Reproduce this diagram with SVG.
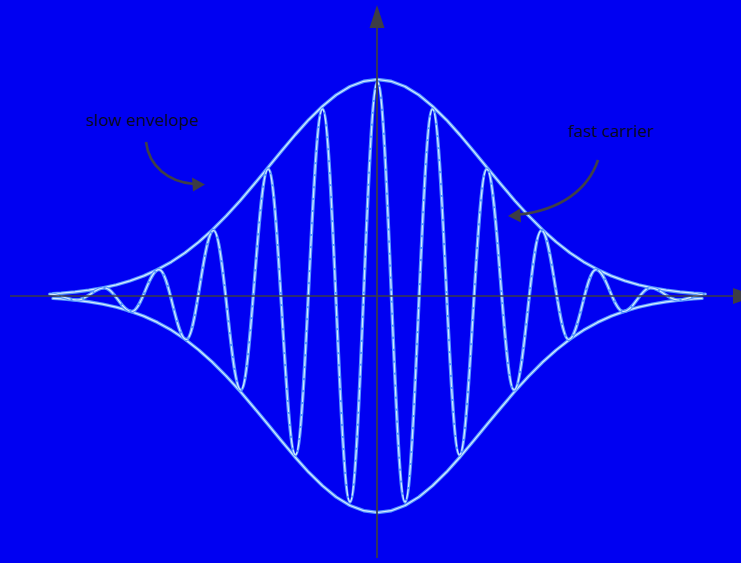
<svg xmlns="http://www.w3.org/2000/svg" width="741" height="563" viewBox="0 0 741 563">
<style>
.glow{fill:none;stroke:#5596ff;stroke-width:3.4;stroke-linejoin:round;stroke-linecap:round}
.core{fill:none;stroke:#d6eaff;stroke-width:1.2;stroke-linejoin:round;stroke-linecap:round}
.axis{stroke:#3d3d45;stroke-width:1.7;fill:none}
.ahead{fill:#3d3d45}
.lbl{font-family:"Open Sans","Liberation Sans",sans-serif;font-size:17px;fill:#0a0a20}
.carrow{fill:none;stroke:#404048;stroke-width:2.6}
</style>
<defs>
<path id="envTop" d="M53 293.6 L61.25 293.2 L75 291.95 L88.75 290.2 L102.5 287.9 L116.25 284.9 L130 280.9 L143.75 275.9 L157.5 269.6 L171.25 261.9 L185 252.8 L198.75 242 L212.5 229.7 L226.25 215.9 L240 200.8 L253.75 184.7 L267.5 168.1 L281.25 151.3 L295 135 L308.75 119.7 L322.5 106.2 L336.25 94.9 L350 86.5 L363.75 81.3 L377.5 79.5 L391.25 81.3 L405 86.5 L418.75 94.9 L432.5 106.2 L446.25 119.7 L460 135 L473.75 151.3 L487.5 168.1 L501.25 184.7 L515 200.8 L528.75 215.9 L542.5 229.7 L556.25 242 L570 252.8 L583.75 261.9 L597.5 269.6 L611.25 275.9 L625 280.9 L638.75 284.9 L652.5 287.9 L666.25 290.2 L680 291.95 L693.75 293.2 L702 293.6"/>
<path id="envBot" d="M53 298.4 L61.25 298.8 L75 300.05 L88.75 301.8 L102.5 304.1 L116.25 307.1 L130 311.1 L143.75 316.1 L157.5 322.4 L171.25 330.1 L185 339.2 L198.75 350 L212.5 362.3 L226.25 376.1 L240 391.2 L253.75 407.3 L267.5 423.9 L281.25 440.7 L295 457 L308.75 472.3 L322.5 485.8 L336.25 497.1 L350 505.5 L363.75 510.7 L377.5 512.5 L391.25 510.7 L405 505.5 L418.75 497.1 L432.5 485.8 L446.25 472.3 L460 457 L473.75 440.7 L487.5 423.9 L501.25 407.3 L515 391.2 L528.75 376.1 L542.5 362.3 L556.25 350 L570 339.2 L583.75 330.1 L597.5 322.4 L611.25 316.1 L625 311.1 L638.75 307.1 L652.5 304.1 L666.25 301.8 L680 300.05 L693.75 298.8 L702 298.4"/>
<path id="carrierPath" d="M49.7 294.1 C59.7 294.1 67 300 77 300 C87 300 94.3 287.9 104.3 287.9 C114.3 287.9 121.6 311.5 131.6 311.5 C141.6 311.5 149 269.6 159 269.6 C169 269.6 176.3 339.5 186.3 339.5 C196.3 339.5 203.6 230.5 213.6 230.5 C223.6 230.5 230.9 390 240.9 390 C250.9 390 258.2 169 268.2 169 C278.2 169 285.5 455 295.5 455 C305.5 455 312.5 109 322.5 109 C332.5 109 340 502 350 502 C360 502 367.5 82 377.5 82 C387.5 82 395 502 405 502 C415 502 422.5 109 432.5 109 C442.5 109 449.5 455 459.5 455 C469.5 455 476.8 169 486.8 169 C496.8 169 504.1 390 514.1 390 C524.1 390 531.4 230.5 541.4 230.5 C551.4 230.5 558.7 339.5 568.7 339.5 C578.7 339.5 586 269.6 596 269.6 C606 269.6 613.4 311.5 623.4 311.5 C633.4 311.5 640.7 287.9 650.7 287.9 C660.7 287.9 668 300 678 300 C688 300 695.3 294.1 705.3 294.1"/>
</defs>
<rect x="0" y="0" width="741" height="563" fill="#0000f2"/>
<g id="envelope">
<use href="#envTop" class="glow"/><use href="#envTop" class="core"/>
<use href="#envBot" class="glow"/><use href="#envBot" class="core"/>
</g>
<g id="carrier">
<use href="#carrierPath" class="glow"/><use href="#carrierPath" class="core" stroke-dasharray="9 3"/>
</g>
<g id="axes">
<line class="axis" x1="10" y1="296" x2="735" y2="296"/>
<polygon class="ahead" points="733,288 733,304 756,296"/>
<line class="axis" x1="377" y1="558" x2="377" y2="20"/>
<polygon class="ahead" points="377,5 369.5,28 384.5,28"/>
</g>
<g id="label-slow">
<text class="lbl" x="86" y="126">slow envelope</text>
</g>
<g id="label-fast">
<text class="lbl" x="568" y="137">fast carrier</text>
</g>
<g id="connectors">
<path class="carrow" d="M146 142 C149 166 168 182 194 184"/>
<polygon class="ahead" points="205,184.5 192,177.5 193,191.5"/>
<path class="carrow" d="M598 160 C588 190 560 210 519 214.5"/>
<polygon class="ahead" points="508,216 520,208.5 521,222.5"/>
</g>
</svg>
